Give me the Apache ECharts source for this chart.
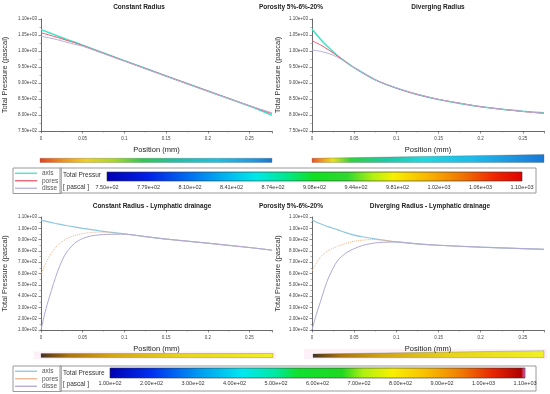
<!DOCTYPE html>
<html><head><meta charset="utf-8">
<script src="https://cdn.jsdelivr.net/npm/echarts@6.0.0/dist/echarts.min.js"></script>
<style>html,body{margin:0;padding:0;background:#fff}#c{width:550px;height:394px}</style>
</head><body><div id="c"></div>
<script>
// ---------- data ----------
const seriesNames = ['axis', 'pores', 'disse'];
const titles = ['Constant Radius', 'Porosity 5%-6%-20%', 'Diverging Radius',
  'Constant Radius - Lymphatic drainage', 'Porosity 5%-6%-20%', 'Diverging Radius - Lymphatic drainage'];

// top-left : constant radius
const posTL   = [0, 0.01, 0.02, 0.03, 0.04, 0.05, 0.1, 0.15, 0.2, 0.25, 0.277];
const axisTL  = [1067, 1057, 1047, 1037, 1028, 1018, 970, 922, 875, 828, 799];
const poresTL = [1057, 1050, 1042, 1034, 1026, 1017, 969, 922, 875, 829, 804];
const disseTL = [1046, 1041, 1035, 1028, 1021, 1015, 968, 921, 874, 829, 807];

// top-right : diverging radius
const posTR   = [0, 0.01, 0.02, 0.03, 0.04, 0.05, 0.075, 0.1, 0.125, 0.15, 0.175, 0.2, 0.225, 0.25, 0.275];
const axisTR  = [1069, 1037, 1010, 986, 966, 948, 910, 884, 864, 848, 836, 826, 818, 812, 807];
const poresTR = [1032, 1019, 1003, 985, 966, 948, 910, 884, 864, 849, 837, 826, 818, 811, 805];
const disseTR = [1003, 999, 992, 981, 965, 948, 910, 885, 865, 849, 837, 826, 818, 811, 805];

// bottom-left : constant radius - lymphatic drainage
const posBL   = [0, 0.005, 0.01, 0.015, 0.02, 0.025, 0.03, 0.04, 0.05, 0.06, 0.07, 0.08, 0.1, 0.125, 0.15, 0.2, 0.25, 0.277];
const axisBL  = [1073, 1064, 1055, 1047, 1039, 1032, 1025, 1012, 1000, 989, 978, 968, 950, 927, 905, 868, 830, 806];
const poresBL = [590, 680, 750, 805, 850, 880, 905, 935, 953, 962, 966, 962, 949, 927, 905, 868, 830, 806];
const disseBL = [100, 260, 390, 510, 620, 710, 780, 865, 910, 932, 942, 946, 948, 927, 905, 868, 830, 806];

// bottom-right : diverging radius - lymphatic drainage
const posBR   = [0, 0.005, 0.01, 0.015, 0.02, 0.03, 0.04, 0.05, 0.06, 0.07, 0.08, 0.1, 0.125, 0.15, 0.2, 0.25, 0.275];
const axisBR  = [1073, 1056, 1040, 1025, 1012, 988, 962, 940, 925, 912, 900, 880, 862, 850, 833, 820, 814];
const poresBR = [620, 690, 745, 780, 805, 840, 865, 885, 895, 900, 898, 881, 862, 850, 833, 820, 814];
const disseBR = [100, 235, 350, 470, 570, 710, 780, 820, 848, 865, 874, 879, 862, 850, 833, 820, 814];

// colour-map tick labels
const ticksTop = ['7.50e+02','7.79e+02','8.10e+02','8.41e+02','8.74e+02','9.08e+02','9.44e+02','9.81e+02','1.02e+03','1.06e+03','1.10e+03'];
const ticksBottom = ['1.00e+02','2.00e+02','3.00e+02','4.00e+02','5.00e+02','6.00e+02','7.00e+02','8.00e+02','9.00e+02','1.00e+03','1.10e+03'];

// ---------- styling ----------
const FONT = 'Liberation Sans Narrow, Arial Narrow, Liberation Sans, Arial, sans-serif';
const LBL = 'Liberation Sans, Arial, sans-serif';
const colTop = { axis: '#3ce6c8', pores: '#f25a72', disse: '#b6b0dc' };
const colBot = { axis: '#8fc6dc', pores: '#f0b48c', disse: '#b0a8d8' };

function expFmt(v) {
  const s = Number(v).toExponential(2);
  const parts = s.split('e');
  const sign = parts[1][0];
  const d = parts[1].slice(1).padStart(2, '0');
  return parts[0] + 'e' + sign + d;
}
const zip = (xs, ys) => xs.map((x, i) => [x, ys[i]]);

const chart = echarts.init(document.getElementById('c'), null, { renderer: 'canvas' });

const plotGrids = [
  { left: 40, top: 19, width: 232, height: 112 },
  { left: 312, top: 19, width: 232, height: 112 },
  { left: 40, top: 217, width: 232, height: 113 },
  { left: 312, top: 217, width: 232, height: 113 }
];
const xMax = [0.277, 0.275, 0.277, 0.275];
const yRange = [[750, 1100, 50], [750, 1100, 50], [100, 1100, 100], [100, 1100, 100]];
const yGap = [32, 30, 32, 30];

const xAxes = [], yAxes = [];
for (let i = 0; i < 4; i++) {
  xAxes.push({
    gridIndex: i, type: 'value', min: 0, max: xMax[i], interval: 0.05,
    name: 'Position (mm)', nameLocation: 'middle', nameGap: 15,
    nameTextStyle: { fontSize: 7.5, color: '#222', fontFamily: LBL },
    axisLine: { lineStyle: { color: '#444', width: 0.8 } },
    axisTick: { length: 2.5, lineStyle: { color: '#444', width: 0.6 } },
    minorTick: { show: true, splitNumber: 2, length: 1.5, lineStyle: { color: '#666', width: 0.5 } },
    splitLine: { show: false },
    axisLabel: { fontSize: 4.5, color: '#444', margin: 5, showMaxLabel: false, fontFamily: LBL,
      formatter: v => String(Math.round(v * 1000) / 1000) }
  });
  yAxes.push({
    gridIndex: i, type: 'value', min: yRange[i][0], max: yRange[i][1], interval: yRange[i][2],
    name: 'Total Pressure (pascal)', nameLocation: 'middle', nameGap: yGap[i],
    nameTextStyle: { fontSize: 7.5, color: '#333', fontFamily: LBL },
    axisLine: { show: true, lineStyle: { color: '#444', width: 0.8 } },
    axisTick: { show: true, length: 2.5, lineStyle: { color: '#444', width: 0.6 } },
    minorTick: { show: true, splitNumber: 2, length: 1.5, lineStyle: { color: '#666', width: 0.5 } },
    splitLine: { show: false },
    axisLabel: { fontSize: 4.5, color: '#444', margin: 4, fontFamily: LBL, formatter: expFmt }
  });
}

// colour bar grids (tick labels through a category axis)
const jetTop = new echarts.graphic.LinearGradient(0, 0, 1, 0, [
  { offset: 0, color: '#0000b4' }, { offset: 0.1, color: '#0020e8' }, { offset: 0.2, color: '#0070f0' },
  { offset: 0.3, color: '#00c0f0' }, { offset: 0.36, color: '#00e8e8' }, { offset: 0.43, color: '#00e890' },
  { offset: 0.5, color: '#10e020' }, { offset: 0.58, color: '#30d830' }, { offset: 0.64, color: '#b0f010' },
  { offset: 0.69, color: '#f8f000' }, { offset: 0.78, color: '#f8b000' }, { offset: 0.86, color: '#f07000' },
  { offset: 0.93, color: '#f02800' }, { offset: 1, color: '#e00000' }
]);
const jetBot = new echarts.graphic.LinearGradient(0, 0, 1, 0, [
  { offset: 0, color: '#0000b4' }, { offset: 0.1, color: '#0030f0' }, { offset: 0.22, color: '#00a0f0' },
  { offset: 0.32, color: '#00e8f0' }, { offset: 0.4, color: '#00e8a0' }, { offset: 0.45, color: '#10e030' },
  { offset: 0.56, color: '#20d820' }, { offset: 0.61, color: '#b0f010' }, { offset: 0.68, color: '#f8f000' },
  { offset: 0.76, color: '#f8c000' }, { offset: 0.84, color: '#f08000' }, { offset: 0.92, color: '#e82800' },
  { offset: 0.99, color: '#b00000' }, { offset: 1, color: '#f070d0' }
]);
const cbGrids = [
  { left: 107, top: 172, width: 415, height: 9, show: true, backgroundColor: jetTop, borderColor: '#333', borderWidth: 0.6 },
  { left: 110, top: 368, width: 415, height: 10, show: true, backgroundColor: jetBot, borderColor: '#333', borderWidth: 0.6 }
];
const cbTicks = [ticksTop, ticksBottom];
const cbMargin = [3, 2];
for (let j = 0; j < 2; j++) {
  xAxes.push({
    gridIndex: 4 + j, type: 'category', data: cbTicks[j], boundaryGap: false,
    axisLine: { show: false }, axisTick: { show: false }, splitLine: { show: false },
    axisLabel: { interval: 0, fontSize: 5.5, color: '#333', margin: cbMargin[j], fontFamily: LBL }
  });
  yAxes.push({ gridIndex: 4 + j, type: 'value', show: false });
}

// line series
const plotData = [
  [posTL, axisTL, poresTL, disseTL],
  [posTR, axisTR, poresTR, disseTR],
  [posBL, axisBL, poresBL, disseBL],
  [posBR, axisBR, poresBR, disseBR]
];
const series = [];
plotData.forEach((pd, i) => {
  const cols = i < 2 ? colTop : colBot;
  seriesNames.forEach((nm, k) => {
    const lw = i < 2 ? (k === 0 ? 1.5 : 1) : (k === 0 ? 1.2 : 1);
    const ls = { color: cols[nm], width: lw, type: (i >= 2 && k === 1) ? 'dotted' : 'solid' };
    series.push({
      type: 'line', name: nm, xAxisIndex: i, yAxisIndex: i,
      data: zip(pd[0], pd[k + 1]), symbol: 'none', showSymbol: false, smooth: 0.3,
      lineStyle: ls, itemStyle: { color: cols[nm] }, z: 2 + k, animation: false
    });
  });
});

const titleOpts = [
  [139, 4], [291, 4], [438, 4], [152, 203], [291, 203], [430, 203]
].map((p, i) => ({
  text: titles[i], left: p[0], top: p[1], textAlign: 'center', padding: 0,
  textStyle: { fontSize: 6.5, fontWeight: 'bold', color: '#222', fontFamily: FONT }
}));

const legendBase = {
  orient: 'vertical', left: 13, itemWidth: 22, itemHeight: 1.3, itemGap: 0,
  padding: [1.5, 3, 1.5, 2], borderColor: '#9a9a9a', borderWidth: 1, selectedMode: false,
  textStyle: { fontSize: 6.5, color: '#555', fontFamily: LBL, lineHeight: 7.5 }
};
const legends = [
  Object.assign({}, legendBase, { top: 168, data: seriesNames.map(n => ({ name: n, icon: 'rect', itemStyle: { color: colTop[n] } })) }),
  Object.assign({}, legendBase, { top: 366, data: seriesNames.map(n => ({ name: n, icon: 'rect', itemStyle: { color: colBot[n] } })) })
];

// decorative colour strips under the plots and colour-map boxes
const stripTL = new echarts.graphic.LinearGradient(0, 0, 1, 0, [
  { offset: 0, color: '#e8401c' }, { offset: 0.09, color: '#f08a1a' }, { offset: 0.2, color: '#f0d020' },
  { offset: 0.32, color: '#a8d828' }, { offset: 0.44, color: '#30c850' }, { offset: 0.59, color: '#20c0a8' },
  { offset: 0.76, color: '#20c0e0' }, { offset: 0.92, color: '#2098e0' }, { offset: 1, color: '#1878d0' }
]);
const stripTR = new echarts.graphic.LinearGradient(0, 0, 1, 0, [
  { offset: 0, color: '#f05020' }, { offset: 0.05, color: '#f0a020' }, { offset: 0.09, color: '#e8e020' },
  { offset: 0.17, color: '#30d040' }, { offset: 0.31, color: '#20c8a0' }, { offset: 0.48, color: '#20d8e0' },
  { offset: 0.7, color: '#20b8e8' }, { offset: 1, color: '#1878d8' }
]);
const stripB = new echarts.graphic.LinearGradient(0, 0, 1, 0, [
  { offset: 0, color: '#3c3428' }, { offset: 0.04, color: '#6a4a14' }, { offset: 0.12, color: '#a87410' },
  { offset: 0.3, color: '#d0a414' }, { offset: 0.6, color: '#e6d41c' }, { offset: 1, color: '#f0f024' }
]);
const txt = (x, y, t) => ({ type: 'text', x: x, y: y, style: { text: t, fontSize: 6.5, fill: '#333', fontFamily: LBL, verticalAlign: 'middle' } });

const graphics = [
  { type: 'polygon', shape: { points: [[40, 158.3], [272, 158.3], [272, 162.5], [40, 162.5]] }, style: { fill: stripTL, stroke: '#555', lineWidth: 0.3 } },
  { type: 'polygon', shape: { points: [[312, 158.3], [544, 154.5], [544, 162.5], [312, 162.5]] }, style: { fill: stripTR, stroke: '#555', lineWidth: 0.3 } },
  { type: 'rect', shape: { x: 34, y: 351.5, width: 242, height: 7.5 }, style: { fill: '#fdf1f7' } },
  { type: 'rect', shape: { x: 304, y: 349, width: 243, height: 10 }, style: { fill: '#fdf1f7' } },
  { type: 'polygon', shape: { points: [[41, 353.5], [273, 353.5], [273, 357.5], [41, 357.5]] }, style: { fill: stripB, stroke: '#555', lineWidth: 0.3 } },
  { type: 'polygon', shape: { points: [[313, 354], [544, 350.7], [544, 357.5], [313, 357.5]] }, style: { fill: stripB, stroke: '#555', lineWidth: 0.3 } },
  { type: 'rect', shape: { x: 60, y: 168, width: 476, height: 25 }, style: { fill: 'none', stroke: '#9a9a9a', lineWidth: 1 } },
  { type: 'rect', shape: { x: 60, y: 366, width: 476, height: 25 }, style: { fill: 'none', stroke: '#9a9a9a', lineWidth: 1 } },
  txt(63, 175.5, 'Total Pressur'), txt(63, 187, '[ pascal ]'),
  txt(63, 373, 'Total Pressure'), txt(63, 384, '[ pascal ]')
];

chart.setOption({
  backgroundColor: '#fff',
  animation: false,
  title: titleOpts,
  legend: legends,
  grid: plotGrids.concat(cbGrids),
  xAxis: xAxes,
  yAxis: yAxes,
  series: series,
  graphic: graphics
});
</script>
</body></html>
